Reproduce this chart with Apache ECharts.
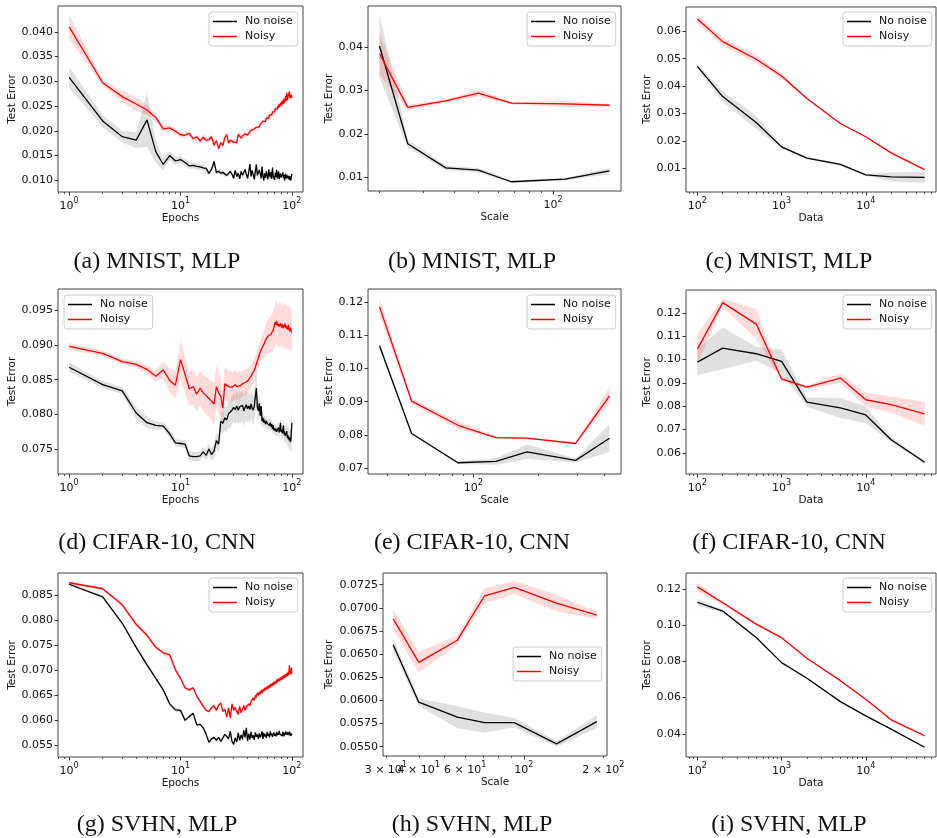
<!DOCTYPE html>
<html>
<head>
<meta charset="utf-8">
<script src="https://cdn.jsdelivr.net/npm/echarts@6/dist/echarts.min.js"></script>
<style>
  html, body { margin: 0; padding: 0; background: #ffffff; }
  #chart { width: 937px; height: 838px; }
</style>
</head>
<body>
<div id="chart"></div>
<script>
// ---- x values ----
const epochs = Array.from({ length: 100 }, (_, i) => i + 1);
const dataSizes = [100, 200, 500, 1000, 2000, 5000, 10000, 20000, 50000];
const mnistScales = [20, 26, 37, 50, 68, 112, 169];
const cifarScales = [37, 52, 85, 127, 177, 296, 424];
const svhnScales = [32, 40, 56, 71, 92, 133, 189];

// ---- tick labels ----
const epochXTicks = [1, 10, 100];
const epochXMinor = [0.8, 0.9, 2, 3, 4, 5, 6, 7, 8, 9, 20, 30, 40, 50, 60, 70, 80, 90];
const dataXTicks = [100, 1000, 10000];
const dataXMinor = [80, 90, 200, 300, 400, 500, 600, 700, 800, 900, 2000, 3000, 4000, 5000, 6000, 7000, 8000, 9000, 20000, 30000, 40000, 50000, 60000];
const mnistScaleXTicks = [100];
const mnistScaleXMinor = [20, 30, 40, 50, 60, 70, 80, 90];
const cifarScaleXTicks = [100];
const cifarScaleXMinor = [30, 40, 50, 60, 70, 80, 90, 200, 300, 400, 500];
const svhnScaleXLabels = [30, 60, 100, 200];
const svhnScaleXMinorLabels = [40];
const svhnScaleXTicks = [100];
const svhnScaleXMinor = [30, 40, 50, 60, 70, 80, 90, 200];

const mnistEpochYTicks = [0.010, 0.015, 0.020, 0.025, 0.030, 0.035, 0.040];
const mnistScaleYTicks = [0.01, 0.02, 0.03, 0.04];
const mnistDataYTicks = [0.01, 0.02, 0.03, 0.04, 0.05, 0.06];
const cifarEpochYTicks = [0.075, 0.080, 0.085, 0.090, 0.095];
const cifarScaleYTicks = [0.07, 0.08, 0.09, 0.10, 0.11, 0.12];
const cifarDataYTicks = [0.06, 0.07, 0.08, 0.09, 0.10, 0.11, 0.12];
const svhnEpochYTicks = [0.055, 0.060, 0.065, 0.070, 0.075, 0.080, 0.085];
const svhnScaleYTicks = [0.0550, 0.0575, 0.0600, 0.0625, 0.0650, 0.0675, 0.0700, 0.0725];
const svhnDataYTicks = [0.04, 0.06, 0.08, 0.10, 0.12];

// ---- MNIST, MLP ----
const mnistEpochClean = [
  0.0308, 0.0220, 0.0188, 0.0181, 0.0222, 0.0158, 0.0132, 0.0150, 0.0139, 0.0142,
  0.0136, 0.0129, 0.0130, 0.0128, 0.0127, 0.0125, 0.0124, 0.0114, 0.0122, 0.0138,
  0.0116, 0.0118, 0.0114, 0.0116, 0.0112, 0.0110, 0.0113, 0.0118, 0.0112, 0.0104,
  0.0120, 0.0108, 0.0114, 0.0103, 0.0118, 0.0110, 0.0106, 0.0122, 0.0112, 0.0104,
  0.0117, 0.0133, 0.0108, 0.0120, 0.0112, 0.0102, 0.0118, 0.0132, 0.0110, 0.0106,
  0.0121, 0.0113, 0.0104, 0.0128, 0.0109, 0.0100, 0.0114, 0.0105, 0.0118, 0.0108,
  0.0102, 0.0122, 0.0111, 0.0106, 0.0117, 0.0103, 0.0126, 0.0108, 0.0112, 0.0101,
  0.0115, 0.0107, 0.0121, 0.0104, 0.0110, 0.0118, 0.0103, 0.0109, 0.0114, 0.0106,
  0.0110, 0.0102, 0.0116, 0.0105, 0.0111, 0.0100, 0.0108, 0.0113, 0.0104, 0.0110,
  0.0106, 0.0112, 0.0103, 0.0109, 0.0101, 0.0108, 0.0104, 0.0100, 0.0107, 0.0113
];
const mnistEpochCleanSd = [
  0.0021, 0.0012, 0.0012, 0.0016, 0.0054, 0.0022, 0.0012, 0.0009, 0.0008, 0.0007,
  0.0007, 0.0006, 0.0006, 0.0006, 0.0006, 0.0006, 0.0005, 0.0005, 0.0005, 0.0006,
  0.0005, 0.0005, 0.0004, 0.0005, 0.0005, 0.0004, 0.0005, 0.0005, 0.0004, 0.0005,
  0.0005, 0.0004, 0.0005, 0.0005, 0.0004, 0.0005, 0.0005, 0.0006, 0.0005, 0.0004,
  0.0005, 0.0006, 0.0005, 0.0005, 0.0004, 0.0005, 0.0005, 0.0006, 0.0005, 0.0004,
  0.0005, 0.0005, 0.0004, 0.0006, 0.0005, 0.0004, 0.0005, 0.0005, 0.0005, 0.0004,
  0.0005, 0.0005, 0.0004, 0.0005, 0.0005, 0.0004, 0.0006, 0.0005, 0.0005, 0.0004,
  0.0005, 0.0004, 0.0005, 0.0005, 0.0004, 0.0005, 0.0005, 0.0004, 0.0005, 0.0005,
  0.0004, 0.0005, 0.0005, 0.0004, 0.0005, 0.0005, 0.0004, 0.0005, 0.0005, 0.0004,
  0.0005, 0.0005, 0.0004, 0.0005, 0.0005, 0.0004, 0.0005, 0.0005, 0.0006, 0.0006
];
const mnistEpochNoisy = [
  0.0410, 0.0297, 0.0269, 0.0254, 0.0242, 0.0227, 0.0204, 0.0206, 0.0199, 0.0192,
  0.0191, 0.0195, 0.0184, 0.0188, 0.0179, 0.0187, 0.0181, 0.0182, 0.0188, 0.0171,
  0.0180, 0.0164, 0.0176, 0.0170, 0.0186, 0.0192, 0.0175, 0.0181, 0.0178, 0.0177,
  0.0180, 0.0176, 0.0193, 0.0196, 0.0185, 0.0190, 0.0188, 0.0194, 0.0192, 0.0191,
  0.0195, 0.0199, 0.0196, 0.0202, 0.0198, 0.0204, 0.0201, 0.0207, 0.0203, 0.0206,
  0.0208, 0.0213, 0.0210, 0.0216, 0.0219, 0.0215, 0.0222, 0.0219, 0.0226, 0.0222,
  0.0228, 0.0225, 0.0232, 0.0228, 0.0236, 0.0232, 0.0238, 0.0235, 0.0242, 0.0238,
  0.0245, 0.0241, 0.0248, 0.0244, 0.0251, 0.0246, 0.0254, 0.0249, 0.0256, 0.0251,
  0.0259, 0.0253, 0.0261, 0.0255, 0.0265, 0.0257, 0.0263, 0.0270, 0.0260, 0.0276,
  0.0262, 0.0268, 0.0272, 0.0264, 0.0279, 0.0266, 0.0270, 0.0262, 0.0273, 0.0266
];
const mnistEpochNoisySd = [
  0.0025, 0.0006, 0.0012, 0.0014, 0.0010, 0.0008, 0.0006, 0.0006, 0.0006, 0.0005,
  0.0006, 0.0006, 0.0005, 0.0006, 0.0005, 0.0006, 0.0005, 0.0005, 0.0006, 0.0006,
  0.0005, 0.0006, 0.0005, 0.0006, 0.0006, 0.0005, 0.0005, 0.0006, 0.0005, 0.0005,
  0.0005, 0.0005, 0.0006, 0.0005, 0.0005, 0.0005, 0.0006, 0.0005, 0.0005, 0.0005,
  0.0005, 0.0005, 0.0005, 0.0006, 0.0005, 0.0005, 0.0005, 0.0005, 0.0006, 0.0005,
  0.0005, 0.0006, 0.0005, 0.0005, 0.0006, 0.0005, 0.0006, 0.0005, 0.0006, 0.0006,
  0.0006, 0.0005, 0.0006, 0.0006, 0.0006, 0.0006, 0.0007, 0.0006, 0.0006, 0.0007,
  0.0006, 0.0007, 0.0006, 0.0007, 0.0007, 0.0006, 0.0007, 0.0007, 0.0008, 0.0007,
  0.0007, 0.0008, 0.0007, 0.0008, 0.0008, 0.0007, 0.0008, 0.0008, 0.0009, 0.0008,
  0.0008, 0.0009, 0.0008, 0.0009, 0.0009, 0.0008, 0.0009, 0.0009, 0.0010, 0.0009
];
const mnistScaleClean = [0.0403, 0.0177, 0.0121, 0.0116, 0.0089, 0.0095, 0.0114];
const mnistScaleCleanSd = [0.0072, 0.0010, 0.0005, 0.0005, 0.0003, 0.0003, 0.0007];
const mnistScaleNoisy = [0.0385, 0.0261, 0.0276, 0.0294, 0.0271, 0.0269, 0.0266];
const mnistScaleNoisySd = [0.0048, 0.0006, 0.0004, 0.0008, 0.0003, 0.0007, 0.0003];
const mnistDataClean = [0.0472, 0.0362, 0.0268, 0.0179, 0.0138, 0.0115, 0.0077, 0.0070, 0.0068];
const mnistDataCleanSd = [0.0007, 0.0020, 0.0024, 0.0005, 0.0004, 0.0006, 0.0003, 0.0017, 0.0020];
const mnistDataNoisy = [0.0644, 0.0562, 0.0498, 0.0437, 0.0355, 0.0264, 0.0216, 0.0157, 0.0096];
const mnistDataNoisySd = [0.0014, 0.0015, 0.0015, 0.0010, 0.0004, 0.0003, 0.0003, 0.0003, 0.0003];

// ---- CIFAR-10, CNN ----
const cifarEpochClean = [
  0.0868, 0.0843, 0.0834, 0.0802, 0.0788, 0.0784, 0.0783, 0.0772, 0.0759, 0.0758,
  0.0757, 0.0740, 0.0739, 0.0739, 0.0740, 0.0746, 0.0741, 0.0750, 0.0742, 0.0747,
  0.0762, 0.0757, 0.0790, 0.0787, 0.0795, 0.0792, 0.0801, 0.0799, 0.0806, 0.0810,
  0.0807, 0.0812, 0.0806, 0.0811, 0.0809, 0.0813, 0.0805, 0.0810, 0.0814, 0.0808,
  0.0812, 0.0807, 0.0815, 0.0809, 0.0806, 0.0812, 0.0826, 0.0838, 0.0810, 0.0805,
  0.0816, 0.0798, 0.0812, 0.0790, 0.0795, 0.0788, 0.0792, 0.0786, 0.0790, 0.0787,
  0.0785, 0.0789, 0.0784, 0.0788, 0.0782, 0.0786, 0.0779, 0.0784, 0.0777, 0.0780,
  0.0776, 0.0779, 0.0775, 0.0778, 0.0776, 0.0781, 0.0774, 0.0777, 0.0788, 0.0775,
  0.0778, 0.0773, 0.0776, 0.0784, 0.0771, 0.0775, 0.0769, 0.0773, 0.0770, 0.0776,
  0.0766, 0.0770, 0.0764, 0.0768, 0.0762, 0.0766, 0.0760, 0.0763, 0.0761, 0.0788
];
const cifarEpochCleanSd = [
  0.0007, 0.0005, 0.0005, 0.0009, 0.0008, 0.0006, 0.0005, 0.0006, 0.0005, 0.0005,
  0.0006, 0.0007, 0.0007, 0.0007, 0.0007, 0.0007, 0.0008, 0.0008, 0.0009, 0.0010,
  0.0012, 0.0013, 0.0015, 0.0016, 0.0018, 0.0018, 0.0019, 0.0020, 0.0020, 0.0021,
  0.0021, 0.0022, 0.0021, 0.0022, 0.0022, 0.0021, 0.0022, 0.0021, 0.0022, 0.0021,
  0.0020, 0.0021, 0.0020, 0.0021, 0.0020, 0.0022, 0.0025, 0.0028, 0.0018, 0.0014,
  0.0013, 0.0012, 0.0011, 0.0010, 0.0009, 0.0009, 0.0008, 0.0008, 0.0008, 0.0008,
  0.0008, 0.0008, 0.0008, 0.0008, 0.0008, 0.0008, 0.0008, 0.0008, 0.0008, 0.0008,
  0.0008, 0.0009, 0.0008, 0.0009, 0.0008, 0.0009, 0.0009, 0.0009, 0.0010, 0.0009,
  0.0010, 0.0010, 0.0011, 0.0012, 0.0011, 0.0012, 0.0012, 0.0013, 0.0013, 0.0013,
  0.0014, 0.0014, 0.0014, 0.0015, 0.0015, 0.0015, 0.0016, 0.0016, 0.0016, 0.0040
];
const cifarEpochNoisy = [
  0.0898, 0.0888, 0.0876, 0.0872, 0.0865, 0.0855, 0.0864, 0.0849, 0.0842, 0.0879,
  0.0857, 0.0837, 0.0840, 0.0829, 0.0838, 0.0831, 0.0827, 0.0823, 0.0819, 0.0815,
  0.0840, 0.0831, 0.0826, 0.0809, 0.0844, 0.0842, 0.0840, 0.0842, 0.0839, 0.0841,
  0.0843, 0.0840, 0.0842, 0.0841, 0.0843, 0.0844, 0.0845, 0.0846, 0.0847, 0.0848,
  0.0850, 0.0853, 0.0855, 0.0858, 0.0861, 0.0864, 0.0868, 0.0873, 0.0877, 0.0882,
  0.0886, 0.0890, 0.0893, 0.0896, 0.0898, 0.0901, 0.0904, 0.0907, 0.0909, 0.0911,
  0.0912, 0.0914, 0.0913, 0.0916, 0.0915, 0.0918, 0.0917, 0.0921, 0.0926, 0.0924,
  0.0933, 0.0929, 0.0935, 0.0928, 0.0931, 0.0926, 0.0930, 0.0927, 0.0932, 0.0928,
  0.0925, 0.0930, 0.0927, 0.0924, 0.0929, 0.0926, 0.0931, 0.0925, 0.0928, 0.0923,
  0.0927, 0.0922, 0.0929, 0.0924, 0.0926, 0.0920, 0.0925, 0.0921, 0.0919, 0.0918
];
const cifarEpochNoisySd = [
  0.0005, 0.0004, 0.0004, 0.0005, 0.0006, 0.0008, 0.0012, 0.0017, 0.0020, 0.0028,
  0.0026, 0.0025, 0.0025, 0.0025, 0.0025, 0.0026, 0.0027, 0.0028, 0.0029, 0.0031,
  0.0030, 0.0030, 0.0029, 0.0028, 0.0024, 0.0023, 0.0022, 0.0022, 0.0021, 0.0021,
  0.0021, 0.0020, 0.0020, 0.0020, 0.0019, 0.0019, 0.0019, 0.0018, 0.0018, 0.0018,
  0.0017, 0.0017, 0.0017, 0.0016, 0.0016, 0.0016, 0.0016, 0.0015, 0.0015, 0.0015,
  0.0015, 0.0016, 0.0016, 0.0017, 0.0018, 0.0019, 0.0020, 0.0021, 0.0022, 0.0023,
  0.0024, 0.0025, 0.0026, 0.0026, 0.0027, 0.0028, 0.0028, 0.0029, 0.0030, 0.0030,
  0.0031, 0.0031, 0.0032, 0.0031, 0.0032, 0.0031, 0.0032, 0.0031, 0.0032, 0.0031,
  0.0031, 0.0032, 0.0031, 0.0032, 0.0031, 0.0032, 0.0031, 0.0032, 0.0031, 0.0032,
  0.0031, 0.0032, 0.0031, 0.0032, 0.0031, 0.0032, 0.0031, 0.0032, 0.0031, 0.0028
];
const cifarScaleClean = [0.1069, 0.0804, 0.0716, 0.0720, 0.0749, 0.0723, 0.0790];
const cifarScaleCleanSd = [0.0011, 0.0003, 0.0004, 0.0010, 0.0022, 0.0006, 0.0042];
const cifarScaleNoisy = [0.1186, 0.0902, 0.0829, 0.0792, 0.0790, 0.0774, 0.0918];
const cifarScaleNoisySd = [0.0025, 0.0008, 0.0012, 0.0004, 0.0003, 0.0003, 0.0025];
const cifarDataClean = [0.0989, 0.1049, 0.1025, 0.0992, 0.0818, 0.0793, 0.0763, 0.0657, 0.0560];
const cifarDataCleanSd = [0.0055, 0.0090, 0.0030, 0.0050, 0.0020, 0.0043, 0.0036, 0.0010, 0.0008];
const cifarDataNoisy = [0.1045, 0.1244, 0.1152, 0.0917, 0.0882, 0.0921, 0.0828, 0.0807, 0.0768];
const cifarDataNoisySd = [0.0064, 0.0018, 0.0064, 0.0010, 0.0007, 0.0020, 0.0030, 0.0035, 0.0051];

// ---- SVHN, MLP ----
const svhnEpochClean = [
  0.0872, 0.0847, 0.0794, 0.0746, 0.0711, 0.0684, 0.0661, 0.0633, 0.0621, 0.0620,
  0.0600, 0.0608, 0.0614, 0.0591, 0.0592, 0.0585, 0.0572, 0.0556, 0.0563, 0.0566,
  0.0560, 0.0566, 0.0558, 0.0565, 0.0572, 0.0568, 0.0563, 0.0578, 0.0558, 0.0552,
  0.0565, 0.0557, 0.0575, 0.0560, 0.0571, 0.0562, 0.0580, 0.0566, 0.0585, 0.0559,
  0.0573, 0.0562, 0.0577, 0.0565, 0.0570, 0.0561, 0.0576, 0.0567, 0.0572, 0.0563,
  0.0574, 0.0566, 0.0571, 0.0578, 0.0563, 0.0575, 0.0568, 0.0572, 0.0565, 0.0577,
  0.0569, 0.0573, 0.0566, 0.0578, 0.0570, 0.0574, 0.0567, 0.0572, 0.0576, 0.0569,
  0.0573, 0.0568, 0.0577, 0.0570, 0.0575, 0.0571, 0.0579, 0.0573, 0.0570, 0.0576,
  0.0572, 0.0569, 0.0577, 0.0573, 0.0568, 0.0575, 0.0571, 0.0578, 0.0572, 0.0569,
  0.0576, 0.0571, 0.0574, 0.0568, 0.0577, 0.0570, 0.0575, 0.0569, 0.0573, 0.0571
];
const svhnEpochCleanSd = [
  0.0003, 0.0003, 0.0003, 0.0004, 0.0004, 0.0004, 0.0004, 0.0004, 0.0004, 0.0004,
  0.0003, 0.0003, 0.0003, 0.0004, 0.0003, 0.0003, 0.0003, 0.0003, 0.0003, 0.0003,
  0.0003, 0.0003, 0.0003, 0.0003, 0.0004, 0.0003, 0.0003, 0.0003, 0.0003, 0.0003,
  0.0003, 0.0003, 0.0003, 0.0003, 0.0003, 0.0003, 0.0004, 0.0003, 0.0003, 0.0003,
  0.0003, 0.0003, 0.0003, 0.0003, 0.0003, 0.0003, 0.0003, 0.0003, 0.0003, 0.0003,
  0.0003, 0.0003, 0.0003, 0.0003, 0.0003, 0.0003, 0.0003, 0.0003, 0.0003, 0.0003,
  0.0003, 0.0003, 0.0003, 0.0003, 0.0003, 0.0003, 0.0003, 0.0003, 0.0003, 0.0003,
  0.0003, 0.0003, 0.0003, 0.0003, 0.0003, 0.0003, 0.0004, 0.0003, 0.0003, 0.0003,
  0.0003, 0.0003, 0.0003, 0.0003, 0.0003, 0.0003, 0.0003, 0.0003, 0.0003, 0.0003,
  0.0003, 0.0003, 0.0003, 0.0003, 0.0004, 0.0003, 0.0003, 0.0003, 0.0004, 0.0004
];
const svhnEpochNoisy = [
  0.0875, 0.0863, 0.0831, 0.0792, 0.0770, 0.0746, 0.0735, 0.0731, 0.0701, 0.0684,
  0.0665, 0.0661, 0.0665, 0.0648, 0.0638, 0.0628, 0.0620, 0.0618, 0.0625, 0.0629,
  0.0620, 0.0630, 0.0635, 0.0618, 0.0622, 0.0607, 0.0625, 0.0605, 0.0633, 0.0620,
  0.0626, 0.0618, 0.0612, 0.0628, 0.0615, 0.0622, 0.0630, 0.0620, 0.0627, 0.0624,
  0.0633, 0.0629, 0.0638, 0.0635, 0.0645, 0.0640, 0.0650, 0.0646, 0.0655, 0.0650,
  0.0657, 0.0652, 0.0660, 0.0655, 0.0662, 0.0658, 0.0665, 0.0660, 0.0667, 0.0662,
  0.0669, 0.0664, 0.0671, 0.0666, 0.0673, 0.0668, 0.0675, 0.0670, 0.0677, 0.0672,
  0.0678, 0.0674, 0.0681, 0.0676, 0.0683, 0.0678, 0.0684, 0.0679, 0.0686, 0.0681,
  0.0687, 0.0682, 0.0689, 0.0684, 0.0690, 0.0685, 0.0692, 0.0687, 0.0693, 0.0688,
  0.0695, 0.0689, 0.0697, 0.0691, 0.0710, 0.0693, 0.0699, 0.0692, 0.0706, 0.0694
];
const svhnEpochNoisySd = [
  0.0003, 0.0003, 0.0005, 0.0005, 0.0005, 0.0005, 0.0005, 0.0008, 0.0005, 0.0004,
  0.0004, 0.0004, 0.0004, 0.0004, 0.0004, 0.0004, 0.0004, 0.0004, 0.0004, 0.0004,
  0.0004, 0.0004, 0.0004, 0.0004, 0.0004, 0.0004, 0.0004, 0.0004, 0.0004, 0.0004,
  0.0004, 0.0004, 0.0004, 0.0004, 0.0004, 0.0004, 0.0004, 0.0004, 0.0004, 0.0004,
  0.0004, 0.0004, 0.0004, 0.0004, 0.0004, 0.0004, 0.0004, 0.0004, 0.0004, 0.0004,
  0.0004, 0.0004, 0.0004, 0.0004, 0.0004, 0.0004, 0.0004, 0.0004, 0.0004, 0.0004,
  0.0004, 0.0004, 0.0004, 0.0004, 0.0004, 0.0004, 0.0004, 0.0004, 0.0004, 0.0004,
  0.0004, 0.0004, 0.0004, 0.0004, 0.0004, 0.0004, 0.0004, 0.0004, 0.0004, 0.0004,
  0.0005, 0.0005, 0.0005, 0.0005, 0.0005, 0.0005, 0.0005, 0.0005, 0.0005, 0.0005,
  0.0006, 0.0006, 0.0006, 0.0006, 0.0006, 0.0006, 0.0006, 0.0006, 0.0006, 0.0006
];
const svhnScaleClean = [0.0660, 0.0598, 0.0582, 0.0576, 0.0576, 0.0553, 0.0577];
const svhnScaleCleanSd = [0.0007, 0.0004, 0.0012, 0.0011, 0.0005, 0.0003, 0.0007];
const svhnScaleNoisy = [0.0688, 0.0641, 0.0665, 0.0713, 0.0722, 0.0705, 0.0692];
const svhnScaleNoisySd = [0.0011, 0.0011, 0.0005, 0.0008, 0.0007, 0.0009, 0.0004];
const svhnDataClean = [0.1128, 0.1079, 0.0933, 0.0794, 0.0707, 0.0578, 0.0499, 0.0426, 0.0325];
const svhnDataCleanSd = [0.0020, 0.0008, 0.0005, 0.0003, 0.0003, 0.0003, 0.0003, 0.0003, 0.0003];
const svhnDataNoisy = [0.1213, 0.1125, 0.1007, 0.0932, 0.0818, 0.0694, 0.0591, 0.0477, 0.0389];
const svhnDataNoisySd = [0.0025, 0.0010, 0.0008, 0.0004, 0.0004, 0.0004, 0.0004, 0.0006, 0.0008];

const seriesNames = ['No noise', 'Noisy'];
const captions = [
  '(a) MNIST, MLP', '(b) MNIST, MLP', '(c) MNIST, MLP',
  '(d) CIFAR-10, CNN', '(e) CIFAR-10, CNN', '(f) CIFAR-10, CNN',
  '(g) SVHN, MLP', '(h) SVHN, MLP', '(i) SVHN, MLP'
];

// ---- layout of the nine panels ----
const panels = [
  { x: epochs, c: mnistEpochClean, cs: mnistEpochCleanSd, n: mnistEpochNoisy, ns: mnistEpochNoisySd,
    rect: [58, 6, 245, 186], y: [0.00764, 0.0452], yt: mnistEpochYTicks, dec: 3,
    xl: epochXTicks, xt: epochXTicks, xm: epochXMinor, xName: 'Epochs', yGap: 39, leg: [209, 12] },
  { x: mnistScales, c: mnistScaleClean, cs: mnistScaleCleanSd, n: mnistScaleNoisy, ns: mnistScaleNoisySd,
    rect: [368, 6, 253, 185], y: [0.00676, 0.04956], yt: mnistScaleYTicks, dec: 2,
    xl: mnistScaleXTicks, xt: mnistScaleXTicks, xm: mnistScaleXMinor, xName: 'Scale', yGap: 32, leg: [527, 12] },
  { x: dataSizes, c: mnistDataClean, cs: mnistDataCleanSd, n: mnistDataNoisy, ns: mnistDataNoisySd,
    rect: [686, 7, 250, 185], y: [0.00148, 0.0688], yt: mnistDataYTicks, dec: 2,
    xl: dataXTicks, xt: dataXTicks, xm: dataXMinor, xName: 'Data', yGap: 33, leg: [843, 12] },
  { x: epochs, c: cifarEpochClean, cs: cifarEpochCleanSd, n: cifarEpochNoisy, ns: cifarEpochNoisySd,
    rect: [58, 289, 245, 185], y: [0.0714, 0.09808], yt: cifarEpochYTicks, dec: 3,
    xl: epochXTicks, xt: epochXTicks, xm: epochXMinor, xName: 'Epochs', yGap: 39, leg: [64, 295] },
  { x: cifarScales, c: cifarScaleClean, cs: cifarScaleCleanSd, n: cifarScaleNoisy, ns: cifarScaleNoisySd,
    rect: [368, 289, 253, 185], y: [0.0682, 0.1240], yt: cifarScaleYTicks, dec: 2,
    xl: cifarScaleXTicks, xt: cifarScaleXTicks, xm: cifarScaleXMinor, xName: 'Scale', yGap: 33, leg: [527, 295] },
  { x: dataSizes, c: cifarDataClean, cs: cifarDataCleanSd, n: cifarDataNoisy, ns: cifarDataNoisySd,
    rect: [686, 290, 250, 184], y: [0.0510, 0.1298], yt: cifarDataYTicks, dec: 2,
    xl: dataXTicks, xt: dataXTicks, xm: dataXMinor, xName: 'Data', yGap: 33, leg: [843, 295] },
  { x: epochs, c: svhnEpochClean, cs: svhnEpochCleanSd, n: svhnEpochNoisy, ns: svhnEpochNoisySd,
    rect: [58, 573, 245, 184], y: [0.05268, 0.08945], yt: svhnEpochYTicks, dec: 3,
    xl: epochXTicks, xt: epochXTicks, xm: epochXMinor, xName: 'Epochs', yGap: 39, leg: [209, 578] },
  { x: svhnScales, c: svhnScaleClean, cs: svhnScaleCleanSd, n: svhnScaleNoisy, ns: svhnScaleNoisySd,
    rect: [383, 573, 224, 183], y: [0.05399, 0.07376], yt: svhnScaleYTicks, dec: 4,
    xl: svhnScaleXLabels, xml: svhnScaleXMinorLabels, xt: svhnScaleXTicks, xm: svhnScaleXMinor,
    xName: 'Scale', yGap: 48, leg: [513, 647] },
  { x: dataSizes, c: svhnDataClean, cs: svhnDataCleanSd, n: svhnDataNoisy, ns: svhnDataNoisySd,
    rect: [686, 573, 250, 184], y: [0.02713, 0.1290], yt: svhnDataYTicks, dec: 2,
    xl: dataXTicks, xt: dataXTicks, xm: dataXMinor, xName: 'Data', yGap: 33, leg: [843, 578] }
];
const captionX = [157, 472, 789];
const captionY = [262, 543, 825];

const FONT = 'DejaVu Sans';
const INK = '#111111';

// "10^k" or "m × 10^k" as rich text with a raised exponent
function logLabel(v) {
  const e = Math.floor(Math.log10(v) + 1e-9);
  const m = Math.round(v / Math.pow(10, e));
  const base = m === 1 ? '10' : m + ' \u00d7 10';
  return '{b|' + base + '}{s|' + e + '}';
}
const logLabelRich = {
  b: { fontFamily: FONT, fontSize: 11, color: INK, lineHeight: 15, verticalAlign: 'bottom' },
  s: { fontFamily: FONT, fontSize: 8, color: INK, lineHeight: 15, verticalAlign: 'top' }
};

// x-range padded by 5% of the log span on both sides
function logExtent(xs) {
  const a = Math.log10(Math.min.apply(null, xs));
  const b = Math.log10(Math.max.apply(null, xs));
  const pad = (b - a) * 0.05;
  return [Math.pow(10, a - pad), Math.pow(10, b + pad)];
}

// shaded band between lower and upper bounds, drawn as one polygon
function bandRender(params, api) {
  if (params.dataIndexInside !== 0) return null;
  const count = params.dataInsideLength;
  const upper = [], lower = [];
  for (let i = 0; i < count; i++) {
    const xv = api.value(0, i);
    upper.push(api.coord([xv, api.value(2, i)]));
    lower.push(api.coord([xv, api.value(1, i)]));
  }
  return {
    type: 'polygon',
    silent: true,
    shape: { points: upper.concat(lower.reverse()) },
    style: { fill: api.visual('color') }
  };
}

const grids = [], xAxes = [], yAxes = [], series = [], legends = [];

panels.forEach((p, k) => {
  const [gl, gt, gw, gh] = p.rect;
  grids.push({ left: gl, top: gt, width: gw, height: gh, show: true,
    borderColor: '#444444', borderWidth: 1, backgroundColor: 'transparent' });
  const ext = logExtent(p.x);
  const labelBase = { margin: 4.5, formatter: logLabel, rich: logLabelRich,
    showMinLabel: true, showMaxLabel: true, hideOverlap: false,
    fontFamily: FONT, fontSize: 11, color: INK };
  // main x axis: labels + major ticks
  xAxes.push({
    type: 'log', logBase: 10, gridIndex: k, position: 'bottom', min: ext[0], max: ext[1],
    name: p.xName, nameLocation: 'middle', nameGap: 15,
    nameTextStyle: { fontFamily: FONT, fontSize: 10.5, color: INK },
    axisLine: { show: false, onZero: false },
    axisTick: { show: true, length: 3.5, customValues: p.xt, lineStyle: { color: '#333333', width: 1 } },
    axisLabel: Object.assign({ show: true, customValues: p.xl }, labelBase),
    splitLine: { show: false }, minorTick: { show: false }, minorSplitLine: { show: false }
  });
  // companion x axis: minor ticks (and any labels sitting on minor ticks)
  xAxes.push({
    type: 'log', logBase: 10, gridIndex: k, position: 'bottom', min: ext[0], max: ext[1],
    axisLine: { show: false, onZero: false },
    axisTick: { show: true, length: 2, customValues: p.xm, lineStyle: { color: '#333333', width: 0.8 } },
    axisLabel: p.xml ? Object.assign({ show: true, customValues: p.xml }, labelBase) : { show: false },
    splitLine: { show: false }
  });
  yAxes.push({
    type: 'value', gridIndex: k, min: p.y[0], max: p.y[1],
    name: 'Test Error', nameLocation: 'middle', nameRotate: 90, nameGap: p.yGap,
    nameTextStyle: { fontFamily: FONT, fontSize: 10.5, color: INK },
    axisLine: { show: false },
    axisTick: { show: true, length: 3.5, customValues: p.yt, lineStyle: { color: '#333333', width: 1 } },
    axisLabel: { show: true, margin: 5, customValues: p.yt, formatter: v => v.toFixed(p.dec),
      showMinLabel: true, showMaxLabel: true,
      fontFamily: FONT, fontSize: 11, color: INK },
    splitLine: { show: false }
  });

  const xi = 2 * k;
  const groups = [
    { name: seriesNames[0], ys: p.c, sd: p.cs, line: '#000000', fill: 'rgba(0,0,0,0.12)' },
    { name: seriesNames[1], ys: p.n, sd: p.ns, line: '#ff0000', fill: 'rgba(255,0,0,0.14)' }
  ];
  groups.forEach(g => {
    series.push({
      type: 'custom', name: g.name + ' band', xAxisIndex: xi, yAxisIndex: k,
      renderItem: bandRender, silent: true, z: 1,
      itemStyle: { color: g.fill },
      encode: { x: 0, y: [1, 2] },
      data: p.x.map((xv, i) => [xv, g.ys[i] - g.sd[i], g.ys[i] + g.sd[i]])
    });
  });
  groups.forEach(g => {
    series.push({
      type: 'line', name: g.name, xAxisIndex: xi, yAxisIndex: k,
      symbol: 'none', showSymbol: false, silent: true, z: 3,
      color: g.line, itemStyle: { color: g.line },
      lineStyle: { color: g.line, width: 1.3 },
      data: p.x.map((xv, i) => [xv, g.ys[i]])
    });
  });

  legends.push({
    orient: 'vertical', left: p.leg[0], top: p.leg[1],
    data: seriesNames, icon: 'rect', itemWidth: 24, itemHeight: 1.5, itemGap: 2,
    padding: [3, 5, 3, 4],
    backgroundColor: 'rgba(255,255,255,0.85)', borderColor: '#cccccc', borderWidth: 1, borderRadius: 3,
    selectedMode: false,
    textStyle: { fontFamily: FONT, fontSize: 11, color: INK, lineHeight: 13, padding: [0, 0, 0, 3] }
  });
});

const graphics = captions.map((t, i) => ({
  type: 'text', x: captionX[i % 3], y: captionY[Math.floor(i / 3)], silent: true,
  style: { text: t, font: '24px "Liberation Serif"', fill: INK, align: 'center', verticalAlign: 'middle' }
}));

const chart = echarts.init(document.getElementById('chart'), null, { renderer: 'canvas' });
chart.setOption({
  animation: false,
  backgroundColor: '#ffffff',
  grid: grids,
  xAxis: xAxes,
  yAxis: yAxes,
  legend: legends,
  series: series,
  graphic: graphics
});
</script>
</body>
</html>
